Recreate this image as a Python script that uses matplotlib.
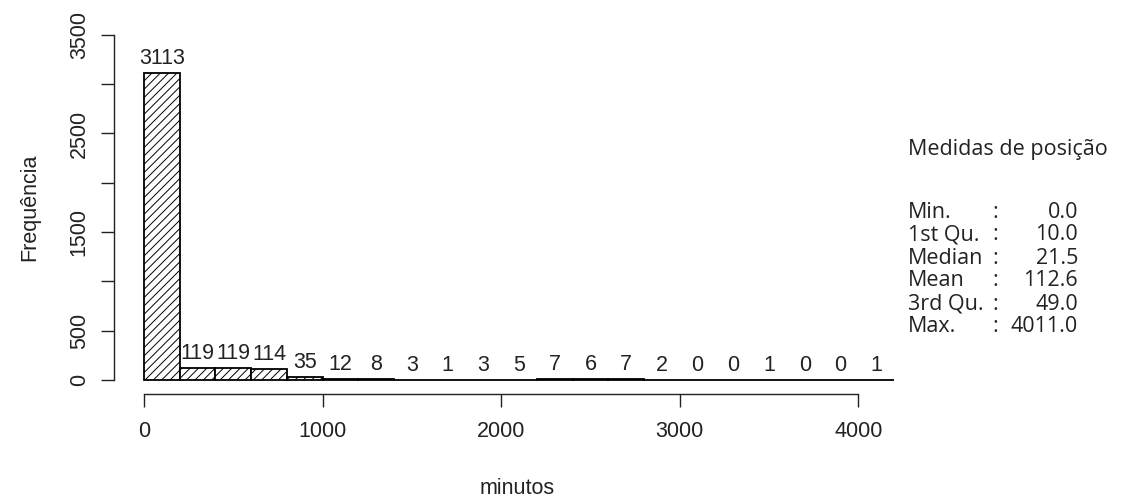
import numpy as np
import matplotlib
matplotlib.use("Agg")
import matplotlib.pyplot as plt

# histogram of durations (minutes), bins of 200
breaks = np.arange(0, 4201, 200)
counts = [3113, 119, 119, 114, 35, 12, 8, 3, 1, 3, 5, 7, 6, 7, 2, 0, 0, 1, 0, 0, 1]

y_ticks = [0, 500, 1000, 1500, 2000, 2500, 3000, 3500]
y_tick_labels = ["0", "500", "", "1500", "", "2500", "", "3500"]
x_ticks = [0, 1000, 2000, 3000, 4000]

# summary() output shown beside the plot
stat_names = ["Min.", "1st Qu.", "Median", "Mean", "3rd Qu.", "Max."]
stat_values = [0.0, 10.0, 21.5, 112.6, 49.0, 4011.0]

plt.rcParams["font.family"] = ["Liberation Sans", "DejaVu Sans"]
plt.rcParams["hatch.linewidth"] = 0.7

W, H = 1126, 504
fig = plt.figure(figsize=(W / 100, H / 100), dpi=100)

# plot region in pixels (R style: axes at the edges of the region)
left, right, top, bottom = 114, 924, 21, 393.85
ax = fig.add_axes([left / W, 1 - bottom / H, (right - left) / W, (bottom - top) / H])

ax.bar(breaks[:-1], counts, width=200, align="edge", facecolor="white",
       edgecolor="black", hatch="////", linewidth=1.3)

# counts above each bar
for x0, c in zip(breaks[:-1], counts):
    ax.annotate(str(c), (x0 + 100, c), xytext=(0, 6.5), textcoords="offset points",
                ha="center", va="baseline", fontsize=15.5, color="#222222")

ax.set_xlim(-168, 4368)
ax.set_ylim(-140, 3640)

for s in ["top", "right"]:
    ax.spines[s].set_visible(False)
ax.spines["left"].set_bounds(0, 3500)
ax.spines["bottom"].set_bounds(0, 4000)
for s in ["left", "bottom"]:
    ax.spines[s].set_linewidth(1.0)
    ax.spines[s].set_color("#222222")

ax.set_xticks(x_ticks)
ax.set_xticklabels([str(t) for t in x_ticks])
ax.set_yticks(y_ticks)
ax.set_yticklabels(y_tick_labels, rotation=90, va="center")
ax.tick_params(axis="both", length=9.4, width=1.0, color="#222222",
               labelsize=15.5, labelcolor="#222222")
ax.tick_params(axis="x", pad=10)
ax.tick_params(axis="y", pad=8)

fig.text(517 / W, 1 - 489 / H, "minutos", ha="center", va="center",
         fontsize=15.5, color="#222222")
fig.text(30 / W, 1 - 207 / H, "Frequência", ha="center", va="center",
         rotation=90, fontsize=15.5, color="#222222")

# summary block on the right
fs = 15.5
fig.text(908 / W, 1 - 150 / H, "Medidas de posição", ha="left", va="center",
         fontsize=fs, family="Open Sans", color="#222222")
y0, dy = 212, 23
for i, (name, val) in enumerate(zip(stat_names, stat_values)):
    y = 1 - (y0 + i * dy) / H
    fig.text(908 / W, y, name, ha="left", va="center", fontsize=fs,
             family="Open Sans", color="#222222")
    fig.text(995 / W, y, ":", ha="center", va="center", fontsize=fs,
             family="Open Sans", color="#222222")
    fig.text(1078 / W, y, f"{val:.1f}", ha="right", va="center", fontsize=fs,
             family="Open Sans", color="#222222")

fig.savefig("out.png", dpi=100)
